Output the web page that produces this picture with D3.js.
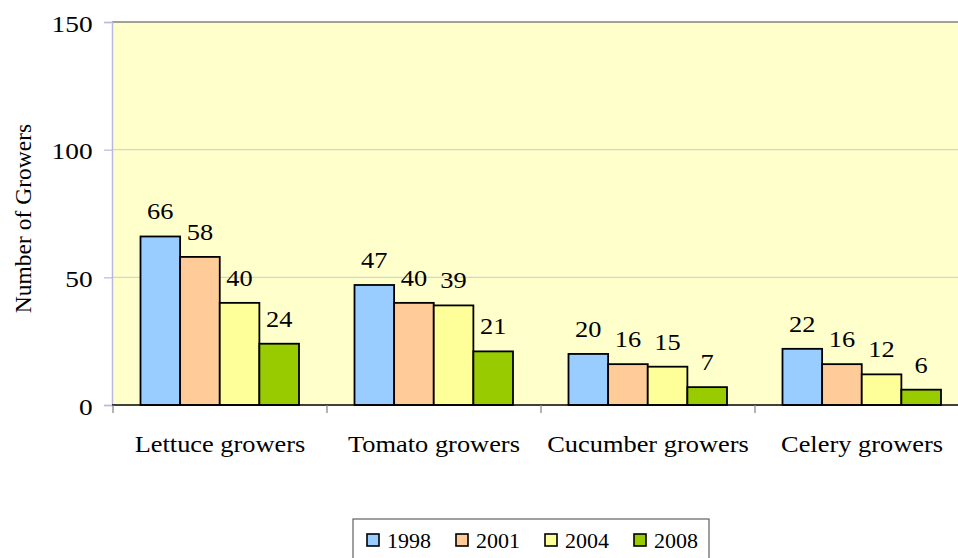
<!DOCTYPE html>
<html>
<head>
<meta charset="utf-8">
<script src="https://cdn.jsdelivr.net/npm/d3@7"></script>
<style>
  html, body { margin: 0; padding: 0; background: #fff; }
  svg { display: block; }
</style>
</head>
<body>
<svg id="chart" width="958" height="558"></svg>
<script>
const categories = ["Lettuce growers", "Tomato growers", "Cucumber growers", "Celery growers"];
const years = ["1998", "2001", "2004", "2008"];
const values1998 = [66, 47, 20, 22];
const values2001 = [58, 40, 16, 16];
const values2004 = [40, 39, 15, 12];
const values2008 = [24, 21, 7, 6];
const yTicks = [0, 50, 100, 150];
const colors = ["#99CCFF", "#FFCC99", "#FFFF99", "#99CC00"];

const seriesValues = [values1998, values2001, values2004, values2008];
const FONT = "'Liberation Serif', 'Times New Roman', 'DejaVu Serif', serif";
const SX = 1.1; // horizontal stretch of the original rendering

const svg = d3.select("#chart").attr("font-family", FONT);
const plot = { left: 112, right: 969, top: 22, bottom: 405 };

const x0 = d3.scaleBand().domain(categories).range([plot.left + 1, plot.right]).padding(0);
const x1 = d3.scaleBand().domain(years).range([27.5, x0.bandwidth() - 28]).padding(0);
const y = d3.scaleLinear().domain([0, 150]).range([plot.bottom, plot.top]);

// background
svg.append("rect")
  .attr("x", plot.left).attr("y", plot.top)
  .attr("width", plot.right - plot.left).attr("height", plot.bottom - plot.top)
  .attr("fill", "#FFFFCC");

// gridlines
svg.append("g").selectAll("line")
  .data(yTicks.filter(t => t > 0 && t < 150))
  .join("line")
  .attr("x1", plot.left).attr("x2", plot.right)
  .attr("y1", d => y(d)).attr("y2", d => y(d))
  .attr("stroke", "#d4d4d4").attr("stroke-width", 1.2);

// top border
svg.append("line")
  .attr("x1", plot.left).attr("x2", plot.right)
  .attr("y1", plot.top).attr("y2", plot.top)
  .attr("stroke", "#808080").attr("stroke-width", 1.5);

// y axis
const yAxis = svg.append("g").attr("transform", `translate(${plot.left},0)`)
  .call(d3.axisLeft(y).tickValues(yTicks).tickSize(8).tickPadding(9).tickFormat(d3.format("d")));
yAxis.attr("font-family", FONT).attr("font-size", 24);
yAxis.select(".domain").attr("stroke", "#b8b8e0").attr("stroke-width", 1.5);
yAxis.selectAll(".tick line").attr("stroke", "#b8b8e0").attr("stroke-width", 1.2);
yAxis.selectAll(".tick text")
  .attr("font-family", FONT).attr("font-size", 24).attr("fill", "#000")
  .attr("dy", "0.38em")
  .attr("transform", `scale(${SX + 0.04},1)`);

// bars
const groups = svg.append("g").selectAll("g")
  .data(categories)
  .join("g")
  .attr("transform", d => `translate(${x0(d)},0)`);

groups.selectAll("rect")
  .data((c, i) => years.map((yr, j) => ({ yr, j, v: seriesValues[j][i] })))
  .join("rect")
  .attr("x", d => x1(d.yr))
  .attr("width", x1.bandwidth())
  .attr("y", d => y(d.v))
  .attr("height", d => y(0) - y(d.v))
  .attr("fill", d => colors[d.j])
  .attr("stroke", "#000").attr("stroke-width", 1.8);

groups.selectAll("text.val")
  .data((c, i) => years.map((yr, j) => ({ yr, j, v: seriesValues[j][i] })))
  .join("text")
  .attr("class", "val")
  .attr("transform", d => `translate(${x1(d.yr) + x1.bandwidth() / 2},${y(d.v) - 17}) scale(${SX},1)`)
  .attr("text-anchor", "middle")
  .attr("font-family", FONT).attr("font-size", 24)
  .text(d => d.v);

// x axis
const xAxis = svg.append("g").attr("transform", `translate(0,${plot.bottom})`);
xAxis.append("line")
  .attr("x1", plot.left).attr("x2", plot.right)
  .attr("stroke", "#000").attr("stroke-width", 1.5);
xAxis.selectAll("line.tk")
  .data(categories.concat(["_end"]))
  .join("line")
  .attr("class", "tk")
  .attr("x1", (d, i) => i < categories.length ? x0(d) : plot.right)
  .attr("x2", (d, i) => i < categories.length ? x0(d) : plot.right)
  .attr("y1", 0).attr("y2", 8)
  .attr("stroke", "#808080").attr("stroke-width", 1.2);
xAxis.selectAll("text")
  .data(categories)
  .join("text")
  .attr("transform", d => `translate(${x0(d) + x0.bandwidth() / 2},47) scale(${SX},1)`)
  .attr("text-anchor", "middle")
  .attr("font-family", FONT).attr("font-size", 24)
  .text(d => d);

// y title
svg.append("text")
  .attr("transform", "translate(30.5,218.5) rotate(-90)")
  .attr("text-anchor", "middle")
  .attr("font-family", FONT).attr("font-size", 23.5)
  .text("Number of Growers");

// legend
const legend = svg.append("g");
legend.append("rect")
  .attr("x", 353).attr("y", 519).attr("width", 356).attr("height", 50)
  .attr("fill", "#fff").attr("stroke", "#606060").attr("stroke-width", 1.2);
const items = legend.selectAll("g.item")
  .data(years)
  .join("g")
  .attr("class", "item")
  .attr("transform", (d, i) => `translate(${367 + i * 89},0)`);
items.append("rect")
  .attr("x", 0).attr("y", 534).attr("width", 12).attr("height", 12)
  .attr("fill", (d, i) => colors[i])
  .attr("stroke", "#000").attr("stroke-width", 1.6);
items.append("text")
  .attr("x", 20).attr("y", 548)
  .attr("font-family", FONT).attr("font-size", 22)
  .text(d => d);
</script>
</body>
</html>
